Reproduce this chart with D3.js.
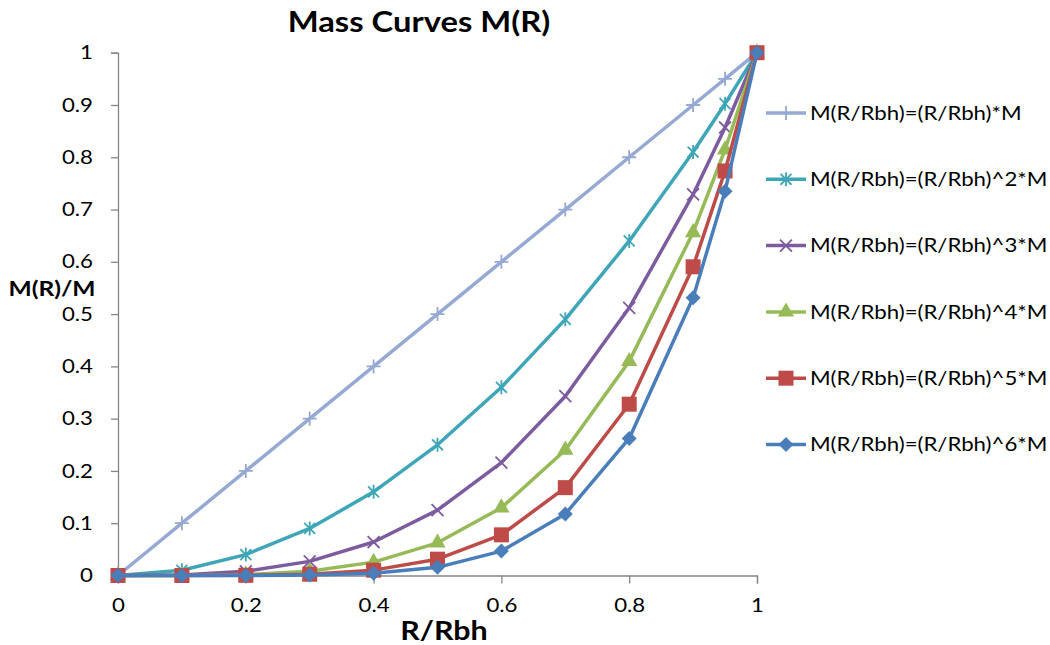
<!DOCTYPE html>
<html>
<head>
<meta charset="utf-8">
<script src="https://cdn.jsdelivr.net/npm/d3@7/dist/d3.min.js"></script>
<style>
  html, body { margin: 0; padding: 0; background: #fff; }
  svg { display: block; font-family: Lato, "Open Sans", sans-serif; }
</style>
</head>
<body>
<svg id="chart" width="1050" height="645"></svg>
<script>
// Radius ratios sampled along each curve
const ratios = [0, 0.1, 0.2, 0.3, 0.4, 0.5, 0.6, 0.7, 0.8, 0.9, 0.95, 1];

// Enclosed mass fraction for each power law
const linear  = [0, 0.1, 0.2, 0.3, 0.4, 0.5, 0.6, 0.7, 0.8, 0.9, 0.95, 1];
const squared = [0, 0.01, 0.04, 0.09, 0.16, 0.25, 0.36, 0.49, 0.64, 0.81, 0.9025, 1];
const cubed   = [0, 0.001, 0.008, 0.027, 0.064, 0.125, 0.216, 0.343, 0.512, 0.729, 0.857, 1];
const fourth  = [0, 0.0001, 0.0016, 0.0081, 0.0256, 0.0625, 0.1296, 0.2401, 0.4096, 0.6561, 0.8145, 1];
const fifth   = [0, 0.00001, 0.00032, 0.00243, 0.01024, 0.03125, 0.07776, 0.16807, 0.32768, 0.59049, 0.7738, 1];
const sixth   = [0, 0.000001, 0.000064, 0.000729, 0.004096, 0.015625, 0.046656, 0.117649, 0.262144, 0.531441, 0.7351, 1];

const seriesNames = [
  "M(R/Rbh)=(R/Rbh)*M",
  "M(R/Rbh)=(R/Rbh)^2*M",
  "M(R/Rbh)=(R/Rbh)^3*M",
  "M(R/Rbh)=(R/Rbh)^4*M",
  "M(R/Rbh)=(R/Rbh)^5*M",
  "M(R/Rbh)=(R/Rbh)^6*M"
];
const xTicks = [0, 0.2, 0.4, 0.6, 0.8, 1];
const yTicks = [0, 0.1, 0.2, 0.3, 0.4, 0.5, 0.6, 0.7, 0.8, 0.9, 1];

const colors  = ["#95a9d3", "#3ea6b7", "#7c5b9e", "#95ba56", "#be4b48", "#4a7ebb"];
const markers = ["plus", "star", "cross", "triangle", "square", "diamond"];
const allValues = [linear, squared, cubed, fourth, fifth, sixth];

// Text is drawn slightly widened horizontally
const STRETCH = 1.17;

const svg = d3.select("#chart");

const x = d3.scaleLinear().domain([0, 1]).range([118, 757]);
const y = d3.scaleLinear().domain([0, 1]).range([575.5, 52.7]);

function label(px, py, txt, size, bold, anchor) {
  return svg.append("text")
    .attr("transform", `translate(${px},${py}) scale(${STRETCH},1)`)
    .attr("text-anchor", anchor || "middle")
    .attr("font-size", size)
    .attr("font-weight", bold ? "bold" : "normal")
    .attr("fill", "#000")
    .text(txt);
}

// Title
label(419, 32, "Mass Curves M(R)", 28, true);

// Axes
const axisColor = "#868686";
const yAxis = svg.append("g")
  .attr("transform", `translate(${x(0)},0)`)
  .call(d3.axisLeft(y).tickValues(yTicks).tickSize(7).tickFormat(d3.format("")));
const xAxis = svg.append("g")
  .attr("transform", `translate(0,${y(0)})`)
  .call(d3.axisBottom(x).tickValues(xTicks).tickSize(8).tickPadding(15).tickFormat(d3.format("")));

[yAxis, xAxis].forEach(g => {
  g.select(".domain").attr("stroke", axisColor).attr("stroke-width", 1.3);
  g.selectAll(".tick line").attr("stroke", axisColor).attr("stroke-width", 1.3);
  g.selectAll(".tick text").attr("font-size", 19).attr("fill", "#000")
    .attr("font-family", "Lato, 'Open Sans', sans-serif");
});
yAxis.selectAll(".tick text")
  .attr("x", 0)
  .attr("transform", `translate(-25,0) scale(${STRETCH},1)`);
xAxis.selectAll(".tick text")
  .attr("transform", `scale(${STRETCH},1)`);

// Axis titles
label(52, 296, "M(R)/M", 21, true);
label(444, 640, "R/Rbh", 26, true);

// Marker shapes
function drawMarker(g, type, color) {
  const s = 7;
  if (type === "plus") {
    g.append("path").attr("d", `M${-s},0H${s}M0,${-s}V${s}`)
      .attr("stroke", color).attr("stroke-width", 1.8).attr("fill", "none");
  } else if (type === "star") {
    const d = s * 0.78;
    g.append("path").attr("d", `M0,${-s}V${s}M${-d},${-d}L${d},${d}M${-d},${d}L${d},${-d}`)
      .attr("stroke", color).attr("stroke-width", 1.8).attr("fill", "none");
  } else if (type === "cross") {
    const d = s * 0.85;
    g.append("path").attr("d", `M${-d},${-d}L${d},${d}M${-d},${d}L${d},${-d}`)
      .attr("stroke", color).attr("stroke-width", 1.8).attr("fill", "none");
  } else if (type === "triangle") {
    g.append("path").attr("d", d3.symbol(d3.symbolTriangle, 115)())
      .attr("fill", color);
  } else if (type === "square") {
    g.append("rect").attr("x", -7.5).attr("y", -7.5).attr("width", 15).attr("height", 15)
      .attr("fill", color);
  } else if (type === "diamond") {
    g.append("path").attr("d", "M0,-7.5L7.5,0L0,7.5L-7.5,0Z").attr("fill", color);
  }
}

const line = d3.line().x(d => x(d[0])).y(d => y(d[1]));

allValues.forEach((vals, i) => {
  const pts = ratios.map((r, j) => [r, vals[j]]);
  const g = svg.append("g");
  g.append("path").datum(pts)
    .attr("d", line)
    .attr("fill", "none")
    .attr("stroke", colors[i])
    .attr("stroke-width", 3.5)
    .attr("stroke-linejoin", "round");
  pts.forEach(p => {
    const m = g.append("g").attr("transform", `translate(${x(p[0])},${y(p[1])})`);
    drawMarker(m, markers[i], colors[i]);
  });
});

// Legend
const legend = svg.append("g");
seriesNames.forEach((name, i) => {
  const ly = 113 + i * 66.3;
  const g = legend.append("g").attr("transform", `translate(0,${ly})`);
  g.append("line").attr("x1", 766).attr("x2", 806).attr("y1", 0).attr("y2", 0)
    .attr("stroke", colors[i]).attr("stroke-width", 3.5);
  const m = g.append("g").attr("transform", "translate(786,0)");
  drawMarker(m, markers[i], colors[i]);
  g.append("text")
    .attr("transform", `translate(810,0) scale(${STRETCH},1)`)
    .attr("dy", "0.35em")
    .attr("font-size", 19).attr("fill", "#000")
    .text(name);
});
</script>
</body>
</html>
